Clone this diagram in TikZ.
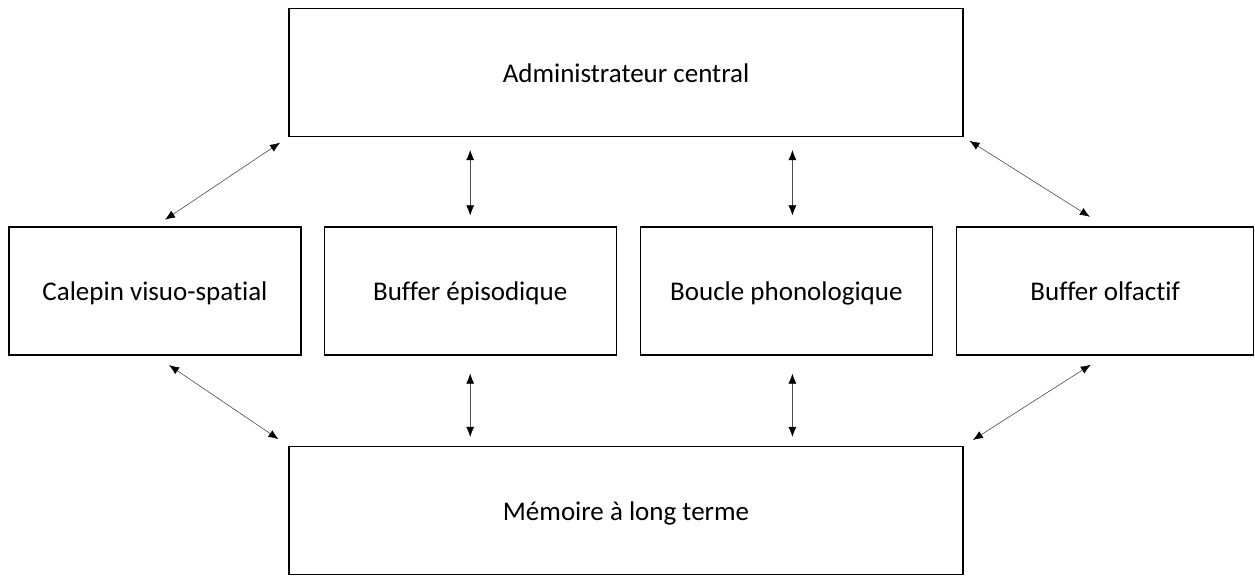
\documentclass[tikz,border=0pt]{standalone}
\usepackage{fontspec}
\setmainfont{Carlito}[Ligatures={NoCommon}]
\usetikzlibrary{arrows.meta,positioning}

\tikzstyle{block} = [rectangle, draw, line width=1.2pt, fill=white, text centered, minimum height=128pt, text height=24pt, text depth=4pt, font=\fontsize{27}{32}\selectfont]
\tikzstyle{wide} = [block, minimum width=674pt]
\tikzstyle{arrow} = [draw, line width=0.6pt, black!70, {Latex[length=10pt,width=8pt,black]}-{Latex[length=10pt,width=8pt,black]}]

\begin{document}
\begin{tikzpicture}[x=1pt, y=1pt, node distance=23pt, auto]
    \useasboundingbox (0,0) rectangle (1255,-577);

    \node[wide] (admin) at (626,-72.5) {Administrateur central};
    \node[block, minimum width=292pt] (calepin) at (155,-291) {Calepin visuo-spatial};
    \node[block, minimum width=292pt, right=22pt of calepin] (episodic) {Buffer épisodique};
    \node[block, minimum width=292pt, right=23pt of episodic] (phono) {Boucle phonologique};
    \node[block, minimum width=297pt, right=23pt of phono] (olfactif) {Buffer olfactif};
    \node[wide] (memoire) at (626,-510.5) {Mémoire à long terme};

    % top arrows
    \draw [arrow, shorten <=10pt, shorten >=12pt] (admin.south west) to (calepin.north);
    \draw [arrow, shorten <=13pt, shorten >=11pt] (episodic.north |- admin.south) to (episodic.north);
    \draw [arrow, shorten <=13pt, shorten >=11pt] ([xshift=6pt]phono.north |- admin.south) to ([xshift=6pt]phono.north);
    \draw [arrow, shorten <=7pt, shorten >=18pt] (admin.south east) to (olfactif.north);

    % bottom arrows
    \draw [arrow, shorten <=17pt, shorten >=12pt] (calepin.south) to (memoire.north west);
    \draw [arrow, shorten <=18pt, shorten >=9pt] (episodic.south) to (episodic.south |- memoire.north);
    \draw [arrow, shorten <=18pt, shorten >=9pt] ([xshift=6pt]phono.south) to ([xshift=6pt]phono.south |- memoire.north);
    \draw [arrow, shorten <=17pt, shorten >=11pt] (olfactif.south) to (memoire.north east);
\end{tikzpicture}
\end{document}
